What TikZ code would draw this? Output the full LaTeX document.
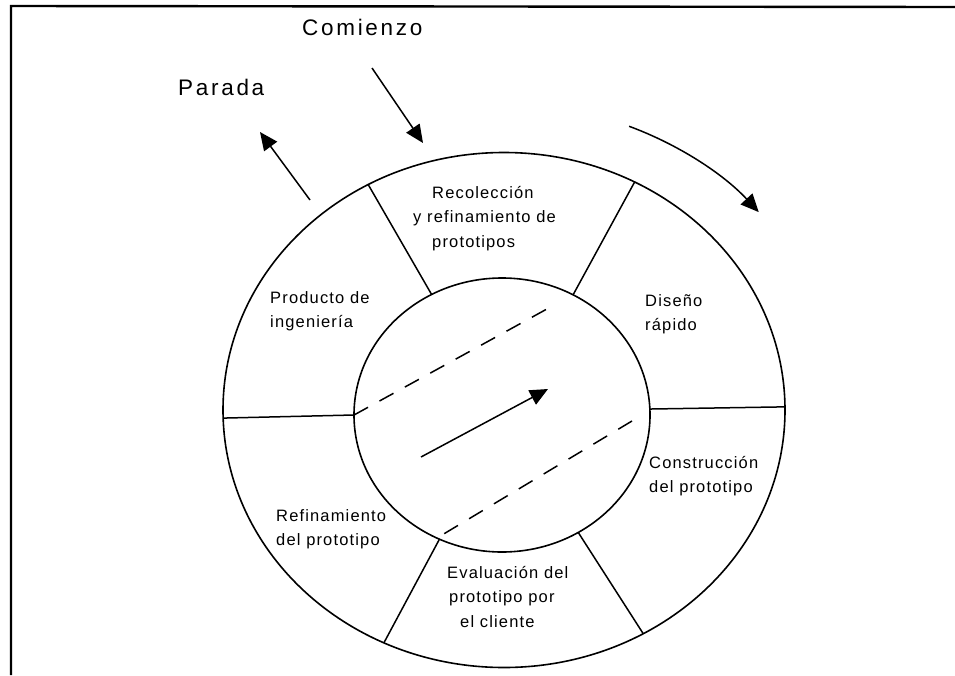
\documentclass[tikz,border=0pt]{standalone}
\usepackage{fontspec}
\setmainfont{Liberation Sans}
\usetikzlibrary{arrows.meta}
\begin{document}
\begin{tikzpicture}[x=1pt,y=-1pt,
  ring/.style={line width=1.6pt},
  spoke/.style={line width=1.5pt},
  flow/.style={line width=1.5pt,-{Triangle[length=18pt,width=16pt]}},
  guide/.style={line width=1.5pt,dash pattern=on 16pt off 13pt},
  phase/.style={anchor=north west,inner sep=0pt,align=left,
    font=\fontsize{16.5}{24.5}\selectfont\addfontfeature{LetterSpace=7}},
  endpoint/.style={anchor=north west,inner sep=0pt,
    font=\fontsize{22.5}{26}\selectfont\addfontfeature{LetterSpace=12}},
]
\useasboundingbox (0,0) rectangle (955,675);

% page frame (top and left edges)
\draw[line width=2.4pt,line join=miter] (955,7) -- (11,6) -- (11,675);

% centres of the two rings
\coordinate (co) at (504,410);
\coordinate (ci) at (502,415);

% rings
\draw[ring] (co) ellipse [x radius=281pt, y radius=257.5pt];
\draw[ring] (ci) ellipse [x radius=148pt, y radius=137pt];

% spoke end points on the outer ring
\path (co) ++(118.9:281pt and 257.5pt) coordinate (oTL);
\path (co) ++(62.3:281pt and 257.5pt)  coordinate (oTR);
\path (co) ++(181.8:281pt and 257.5pt) coordinate (oL);
\path (co) ++(0.7:281pt and 257.5pt)   coordinate (oR);
\path (co) ++(244.7:281pt and 257.5pt) coordinate (oBL);
\path (co) ++(299.7:281pt and 257.5pt) coordinate (oBR);
% spoke end points on the inner ring
\path (ci) ++(118.4:148pt and 137pt) coordinate (iTL);
\path (ci) ++(61.3:148pt and 137pt)  coordinate (iTR);
\path (ci) ++(180:148pt and 137pt)   coordinate (iL);
\path (ci) ++(2.5:148pt and 137pt)   coordinate (iR);
\path (ci) ++(245:148pt and 137pt)   coordinate (iBL);
\path (ci) ++(301:148pt and 137pt)   coordinate (iBR);

% spokes
\draw[spoke] (oTL) -- (iTL);
\draw[spoke] (oTR) -- (iTR);
\draw[spoke] (oL) -- (iL);
\draw[spoke] (iR) -- (oR);
\draw[spoke] (oBL) -- (iBL);
\draw[spoke] (oBR) -- (iBR);

% dashed guides across the hub
\coordinate (gUpEnd) at (556,304);
\coordinate (gLoStart) at (632,421);
\coordinate (gLoEnd) at (442,535);
\draw[guide] (iL) -- (gUpEnd);
\draw[guide] (gLoStart) -- (gLoEnd);

% arrow through the hub
\coordinate (hubTail) at (421,457);
\coordinate (hubTip) at (548,389);
\draw[flow] (hubTail) -- (hubTip);

% entry and exit arrows
\coordinate (inTail) at (372,68);
\coordinate (inTip) at (423,143);
\coordinate (outTail) at (310,200);
\coordinate (outTip) at (260,132);
\draw[flow] (inTail) -- (inTip);
\draw[flow] (outTail) -- (outTip);

% direction of the cycle
\draw[flow] (co) ++(68:334pt and 306pt)
  arc[start angle=68, end angle=40.3, x radius=334pt, y radius=306pt];

% labels
\node[endpoint] (start) at (302,19) {Comienzo};
\node[endpoint] (stop) at (178,79) {Parada};
\node[phase] (gather) at (413,186) {\hspace*{19pt}Recolección\\y refinamiento de\\\hspace*{19pt}prototipos};
\node[phase] (product) at (270,291) {Producto de\\ingeniería};
\node[phase] (design) at (645,294) {Diseño\\rápido};
\node[phase] (build) at (649,456) {Construcción\\del prototipo};
\node[phase] (refine) at (276,509) {Refinamiento\\del prototipo};
\node[phase] (evaluate) at (447,566) {Evaluación del\\\hspace*{2pt}prototipo por\\\hspace*{13pt}el cliente};
\end{tikzpicture}
\end{document}
